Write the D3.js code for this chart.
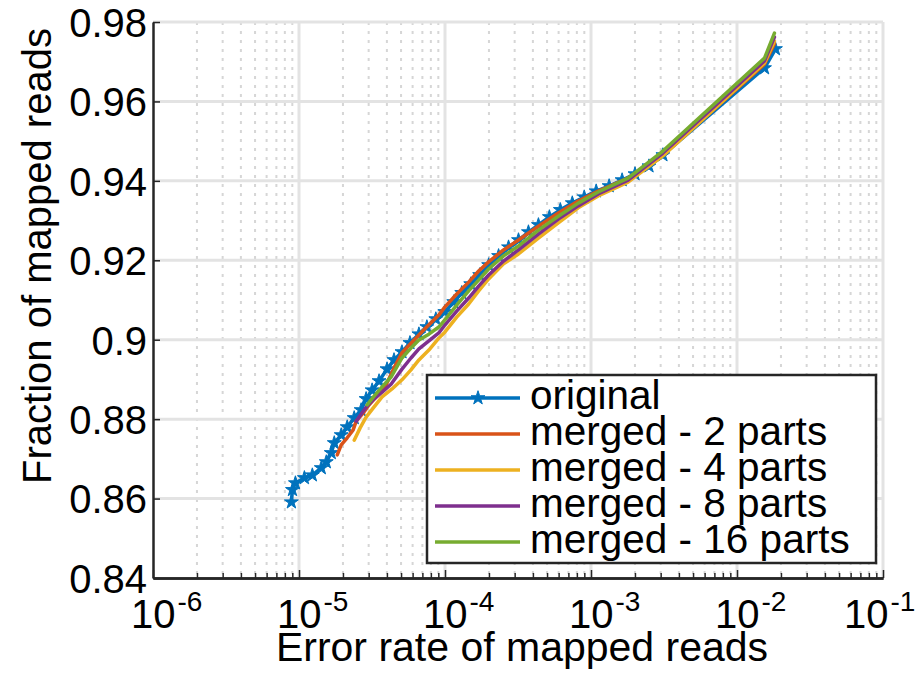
<!DOCTYPE html>
<html>
<head>
<meta charset="utf-8">
<script src="https://cdn.jsdelivr.net/npm/d3@7"></script>
<style>
  body { margin: 0; background: #fff; }
  svg { font-family: "Liberation Sans", Arial, Helvetica, sans-serif; display: block; }
  .axis path, .axis line { stroke: #262626; }
  .axis text { fill: #000; font-size: 40px; font-family: "Liberation Sans", Arial, sans-serif; }
  .line { fill: none; stroke-width: 3.5; stroke-linejoin: round; stroke-linecap: round; }
</style>
</head>
<body>
<div id="chart"></div>
<script>
// decades on the log x axis and the y ticks
const xTickExponents = [-6, -5, -4, -3, -2, -1];
const yTickValues = [0.84, 0.86, 0.88, 0.9, 0.92, 0.94, 0.96, 0.98];
const yTickLabels = ["0.84", "0.86", "0.88", "0.9", "0.92", "0.94", "0.96", "0.98"];

const seriesNames = ["original", "merged - 2 parts", "merged - 4 parts", "merged - 8 parts", "merged - 16 parts"];

// error rate / fraction of mapped reads
const originalX = [8.87e-6, 9.02e-6, 9.45e-6, 1.089e-5, 1.234e-5, 1.421e-5, 1.538e-5, 1.663e-5, 1.744e-5, 1.946e-5,
  2.139e-5, 2.388e-5, 2.665e-5, 2.882e-5, 3.168e-5, 3.535e-5, 4.009e-5, 4.475e-5, 5.074e-5, 5.754e-5,
  6.626e-5, 7.514e-5, 8.653e-5, 9.968e-5, 1.148e-4, 1.302e-4, 1.500e-4, 1.728e-4, 1.990e-4, 2.328e-4,
  2.724e-4, 3.187e-4, 3.729e-4, 4.364e-4, 5.187e-4, 6.166e-4, 7.445e-4, 8.986e-4, 1.085e-3, 1.331e-3,
  1.633e-3, 2.002e-3, 2.495e-3, 3.108e-3, 1.543e-2, 1.834e-2];
const originalY = [0.8591, 0.8622, 0.8639, 0.8652, 0.8659, 0.8677, 0.8692, 0.8715, 0.8740, 0.8760,
  0.8780, 0.8803, 0.8823, 0.8851, 0.8873, 0.8896, 0.8926, 0.8949, 0.8969, 0.8992,
  0.9014, 0.9032, 0.9052, 0.9070, 0.9095, 0.9118, 0.9140, 0.9163, 0.9188, 0.9211,
  0.9233, 0.9251, 0.9271, 0.9289, 0.9309, 0.9327, 0.9344, 0.9359, 0.9374, 0.9387,
  0.9402, 0.9417, 0.9437, 0.9465, 0.9684, 0.9732];

const merged2X = [1.828e-5, 1.946e-5, 2.139e-5, 2.350e-5, 2.464e-5, 2.749e-5, 3.021e-5, 3.425e-5, 3.947e-5, 4.475e-5,
  5.074e-5, 6.127e-5, 7.396e-5, 9.071e-5, 9.968e-5, 1.203e-4, 1.453e-4, 1.701e-4, 1.990e-4, 2.518e-4,
  3.187e-4, 4.364e-4, 5.975e-4, 8.178e-4, 1.120e-3, 1.794e-3, 3.108e-3, 1.543e-2, 1.805e-2];
const merged2Y = [0.8710, 0.8735, 0.8753, 0.8773, 0.8795, 0.8815, 0.8836, 0.8858, 0.8886, 0.8929,
  0.8967, 0.8999, 0.9030, 0.9062, 0.9082, 0.9115, 0.9145, 0.9173, 0.9196, 0.9226,
  0.9251, 0.9286, 0.9319, 0.9349, 0.9374, 0.9407, 0.9465, 0.9694, 0.9745];

const merged4X = [2.388e-5, 2.623e-5, 2.882e-5, 3.269e-5, 3.707e-5, 4.336e-5, 5.074e-5, 5.845e-5, 6.626e-5, 7.753e-5,
  9.071e-5, 9.968e-5, 1.203e-4, 1.453e-4, 1.701e-4, 1.990e-4, 2.518e-4, 3.187e-4, 4.364e-4, 5.975e-4,
  8.178e-4, 1.120e-3, 1.794e-3, 3.108e-3, 1.543e-2, 1.805e-2];
const merged4Y = [0.8747, 0.8778, 0.8805, 0.8831, 0.8856, 0.8876, 0.8899, 0.8924, 0.8949, 0.8974,
  0.9004, 0.9019, 0.9057, 0.9090, 0.9123, 0.9153, 0.9191, 0.9216, 0.9256, 0.9294,
  0.9332, 0.9362, 0.9397, 0.9463, 0.9697, 0.9752];

const merged8X = [2.464e-5, 2.665e-5, 2.928e-5, 3.269e-5, 3.707e-5, 4.269e-5, 5.074e-5, 5.845e-5, 6.626e-5, 7.753e-5,
  9.071e-5, 9.968e-5, 1.203e-4, 1.453e-4, 1.701e-4, 1.990e-4, 2.518e-4, 3.187e-4, 4.364e-4, 5.975e-4,
  8.178e-4, 1.120e-3, 1.794e-3, 3.108e-3, 1.543e-2, 1.805e-2];
const merged8Y = [0.8795, 0.8813, 0.8833, 0.8851, 0.8868, 0.8888, 0.8926, 0.8954, 0.8977, 0.8997,
  0.9017, 0.9037, 0.9072, 0.9105, 0.9135, 0.9163, 0.9198, 0.9226, 0.9266, 0.9304,
  0.9337, 0.9367, 0.9402, 0.9470, 0.9702, 0.9762];

const merged16X = [2.928e-5, 3.269e-5, 3.707e-5, 4.269e-5, 5.074e-5, 5.845e-5, 6.626e-5, 7.753e-5, 9.071e-5, 9.968e-5,
  1.203e-4, 1.453e-4, 1.701e-4, 1.990e-4, 2.518e-4, 3.187e-4, 4.364e-4, 5.975e-4, 8.178e-4, 1.120e-3,
  1.794e-3, 3.108e-3, 1.543e-2, 1.805e-2];
const merged16Y = [0.8836, 0.8858, 0.8881, 0.8906, 0.8954, 0.8979, 0.8999, 0.9014, 0.9032, 0.9050,
  0.9087, 0.9123, 0.9150, 0.9178, 0.9211, 0.9236, 0.9276, 0.9311, 0.9344, 0.9372,
  0.9407, 0.9475, 0.9709, 0.9772];

// matlab default colour order
const colors = ["#0072BD", "#D95319", "#EDB120", "#7E2F8E", "#77AC30"];

const width = 920, height = 673;
const margin = {top: 22, right: 37, bottom: 95, left: 153};

const series = [
  d3.zip(originalX, originalY),
  d3.zip(merged2X, merged2Y),
  d3.zip(merged4X, merged4Y),
  d3.zip(merged8X, merged8Y),
  d3.zip(merged16X, merged16Y)
];

const svg = d3.select("#chart").append("svg")
  .attr("width", width)
  .attr("height", height);

svg.append("rect").attr("width", width).attr("height", height).attr("fill", "#fff");

const xScale = d3.scaleLog()
  .domain([1e-6, 1e-1])
  .range([margin.left, width - margin.right]);
const yScale = d3.scaleLinear()
  .domain([0.84, 0.98])
  .range([height - margin.bottom, margin.top]);

const xMajor = xTickExponents.map(e => Math.pow(10, e));
const xMinor = [];
xTickExponents.slice(0, -1).forEach(function(e) {
  for (let k = 2; k <= 9; k++) xMinor.push(k * Math.pow(10, e));
});

// grid
const grid = svg.append("g").attr("class", "grid");
grid.selectAll(".minor-x")
  .data(xMinor)
  .enter().append("line")
    .attr("x1", d => xScale(d)).attr("x2", d => xScale(d))
    .attr("y1", yScale(0.98)).attr("y2", yScale(0.84))
    .attr("stroke", "#d6d6d6")
    .attr("stroke-width", 2)
    .attr("stroke-dasharray", "3,6");
grid.selectAll(".major-x")
  .data(xMajor.slice(1))
  .enter().append("line")
    .attr("x1", d => xScale(d)).attr("x2", d => xScale(d))
    .attr("y1", yScale(0.98)).attr("y2", yScale(0.84))
    .attr("stroke", "#e3e3e3")
    .attr("stroke-width", 3);
grid.selectAll(".major-y")
  .data(yTickValues.slice(1))
  .enter().append("line")
    .attr("x1", xScale(1e-6)).attr("x2", xScale(1e-1))
    .attr("y1", d => yScale(d)).attr("y2", d => yScale(d))
    .attr("stroke", "#e3e3e3")
    .attr("stroke-width", 3);

// lines, drawn in order so later series sit on top (stars go with the first)
const line = d3.line()
  .x(d => xScale(d[0]))
  .y(d => yScale(d[1]));
const star = d3.symbol().type(d3.symbolStar).size(60);

series.forEach(function(s, i) {
  const g = svg.append("g").attr("class", "series");
  g.append("path")
    .datum(s)
    .attr("class", "line")
    .attr("stroke", colors[i])
    .attr("d", line);
  if (i === 0) {
    g.selectAll(".marker")
      .data(s)
      .enter().append("path")
        .attr("class", "marker")
        .attr("transform", d => "translate(" + xScale(d[0]) + "," + yScale(d[1]) + ")")
        .attr("d", star)
        .attr("fill", colors[0])
        .attr("stroke", colors[0])
        .attr("stroke-width", 1);
  }
});

// axes
const xAxisMinor = d3.axisBottom(xScale).tickValues(xMinor).tickSize(-5).tickSizeOuter(0).tickFormat("");
const xAxis = d3.axisBottom(xScale).tickValues(xMajor).tickSize(-8).tickSizeOuter(0).tickFormat("");
const yAxis = d3.axisLeft(yScale).tickValues(yTickValues).tickSize(-7).tickSizeOuter(0).tickPadding(6)
  .tickFormat((d, i) => yTickLabels[i]);

const gx = svg.append("g")
  .attr("class", "x axis")
  .attr("transform", "translate(0," + yScale(0.84) + ")");
gx.call(xAxisMinor);
gx.append("g").call(xAxis);
gx.selectAll("path").attr("stroke-width", 2.5);
gx.selectAll("line").attr("stroke-width", 1.5);

const gy = svg.append("g")
  .attr("class", "y axis")
  .attr("transform", "translate(" + xScale(1e-6) + ",0)")
  .call(yAxis);
gy.select("path").attr("stroke-width", 2.5);
gy.selectAll("line").attr("stroke-width", 1.5);
gy.selectAll("text").attr("dy", "0.36em");

// x tick labels as 10^n, "10" centred on the tick
const xLabels = svg.append("g").attr("class", "x-labels");
xTickExponents.forEach(function(e) {
  let cx = xScale(Math.pow(10, e));
  if (cx + 45 > width) cx = 866;
  const t = xLabels.append("text")
    .attr("x", cx - 22).attr("y", 628)
    .attr("font-size", 40);
  t.append("tspan").text("10");
  t.append("tspan")
    .attr("dx", 2).attr("dy", -17)
    .attr("font-size", 28)
    .text("-" + Math.abs(e));
});

// axis titles
svg.append("text")
  .attr("x", (xScale(1e-6) + xScale(1e-1)) / 2 + 4)
  .attr("y", 661)
  .attr("text-anchor", "middle")
  .attr("font-size", 41)
  .text("Error rate of mapped reads");

svg.append("text")
  .attr("transform", "translate(51,256) rotate(-90)")
  .attr("text-anchor", "middle")
  .attr("font-size", 40)
  .text("Fraction of mapped reads");

// legend
const legend = svg.append("g").attr("class", "legend");
legend.append("rect")
  .attr("x", 427).attr("y", 375)
  .attr("width", 449).attr("height", 188)
  .attr("fill", "#fff")
  .attr("stroke", "#262626")
  .attr("stroke-width", 2.5);

const rows = legend.selectAll(".row")
  .data(seriesNames)
  .enter().append("g")
    .attr("class", "row")
    .attr("transform", (d, i) => "translate(0," + (398 + i * 36) + ")");
rows.append("line")
  .attr("x1", 435).attr("x2", 520)
  .attr("stroke", (d, i) => colors[i])
  .attr("stroke-width", 3.5);
rows.filter((d, i) => i === 0).append("path")
  .attr("transform", "translate(478,0)")
  .attr("d", star)
  .attr("fill", colors[0])
  .attr("stroke", colors[0]);
rows.append("text")
  .attr("x", 530).attr("y", 11)
  .attr("font-size", 40.5)
  .text(d => d);
</script>
</body>
</html>
